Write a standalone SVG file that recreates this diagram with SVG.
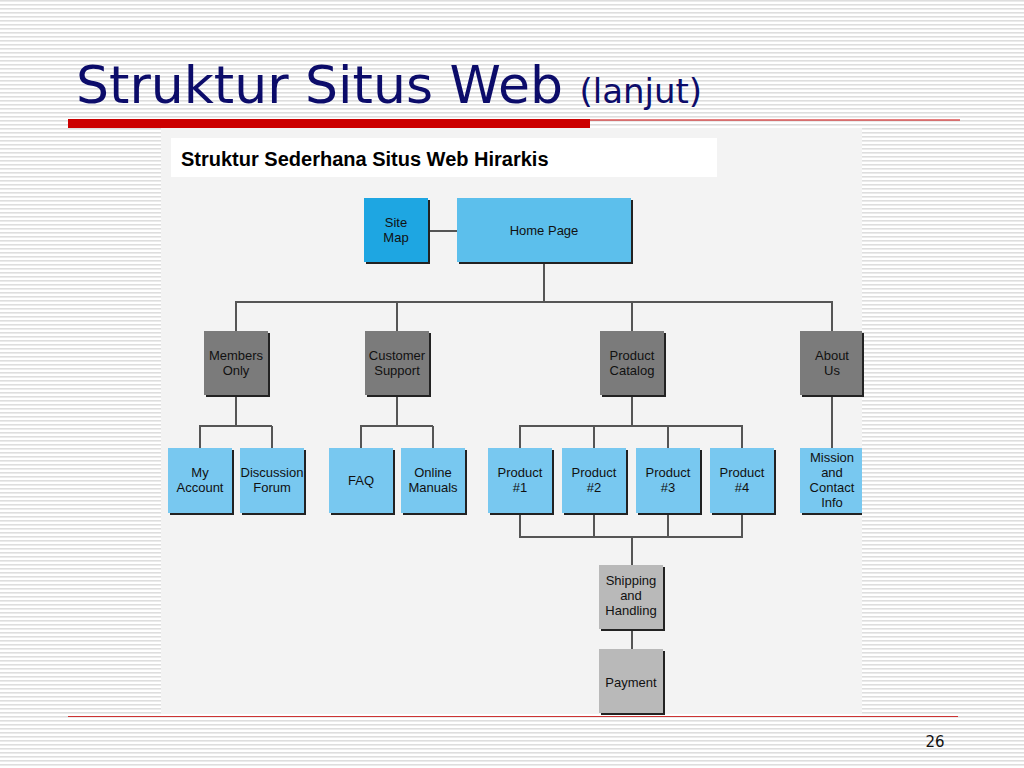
<svg xmlns="http://www.w3.org/2000/svg" width="1024" height="768" viewBox="0 0 1024 768">
<defs>
<pattern id="st" width="8" height="4" patternUnits="userSpaceOnUse"><rect width="8" height="4" fill="#ffffff"/><rect width="8" height="1.6" fill="#dedede"/></pattern>
</defs>
<style>
.b{stroke:#2a2a2a;stroke-width:0;}
.sh{fill:#222}
.lb{fill:#78c8f0}.dk{fill:#1ea6e2}.hp{fill:#5cbfec}.g{fill:#7b7b7b}.lg{fill:#b9b9b9}
text.n{font-family:"Liberation Sans",Arial,sans-serif;font-size:13px;fill:#111;text-anchor:middle}
.c line{stroke:#555;stroke-width:2}
</style>
<rect width="1024" height="768" fill="url(#st)"/>
<text x="76" y="103" font-family="DejaVu Sans,Verdana,sans-serif" font-size="52" fill="#0c0c6a">Struktur Situs Web <tspan font-size="34">(lanjut)</tspan></text>
<rect x="68" y="119" width="522" height="9" fill="#cc0000"/>
<line x1="590" y1="120" x2="960" y2="120" stroke="#cc0000" stroke-width="1"/>
<rect x="161" y="128" width="701" height="586" fill="#f3f3f3"/>
<line x1="68" y1="716.5" x2="958" y2="716.5" stroke="#cc3333" stroke-width="1"/>
<text x="935" y="747" font-family="DejaVu Sans,sans-serif" font-size="15" fill="#111" text-anchor="middle">26</text>
<rect x="171" y="138" width="546" height="39" fill="#ffffff"/>
<text x="181" y="166" font-family="Liberation Sans,Arial,sans-serif" font-size="20" font-weight="bold" fill="#000">Struktur Sederhana Situs Web Hirarkis</text>
<g class="c">
<line x1="428" y1="231" x2="457" y2="231"/>
<line x1="544" y1="262" x2="544" y2="302"/>
<line x1="235" y1="302" x2="833" y2="302"/>
<line x1="236" y1="302" x2="236" y2="331"/><line x1="397" y1="302" x2="397" y2="331"/><line x1="632" y1="302" x2="632" y2="331"/><line x1="832" y1="302" x2="832" y2="331"/>
<line x1="236" y1="395" x2="236" y2="426"/><line x1="199" y1="426" x2="272" y2="426"/><line x1="200" y1="426" x2="200" y2="448"/><line x1="272" y1="426" x2="272" y2="448"/>
<line x1="397" y1="395" x2="397" y2="426"/><line x1="360" y1="426" x2="433" y2="426"/><line x1="361" y1="426" x2="361" y2="448"/><line x1="433" y1="426" x2="433" y2="448"/>
<line x1="632" y1="395" x2="632" y2="426"/><line x1="519" y1="426" x2="743" y2="426"/><line x1="520" y1="426" x2="520" y2="448"/><line x1="594" y1="426" x2="594" y2="448"/><line x1="668" y1="426" x2="668" y2="448"/><line x1="742" y1="426" x2="742" y2="448"/>
<line x1="832" y1="395" x2="832" y2="448"/>
<line x1="520" y1="513" x2="520" y2="537"/><line x1="594" y1="513" x2="594" y2="537"/><line x1="668" y1="513" x2="668" y2="537"/><line x1="742" y1="513" x2="742" y2="537"/>
<line x1="519" y1="537" x2="743" y2="537"/>
<line x1="632" y1="537" x2="632" y2="565"/><line x1="632" y1="629" x2="632" y2="649"/>
</g>
<g id="sitemap"><rect x="366" y="200" width="64" height="64" class="sh"/><rect x="364" y="198" width="64" height="64" class="dk"/><text class="n" x="396" y="227">Site</text><text class="n" x="396" y="242">Map</text></g>
<g id="home"><rect x="459" y="200" width="174" height="64" class="sh"/><rect x="457" y="198" width="174" height="64" class="hp"/><text class="n" x="544" y="235">Home Page</text></g>
<g id="members"><rect x="206" y="333" width="64" height="64" class="sh"/><rect x="204" y="331" width="64" height="64" class="g"/><text class="n" x="236" y="360">Members</text><text class="n" x="236" y="375">Only</text></g>
<g id="support"><rect x="367" y="333" width="64" height="64" class="sh"/><rect x="365" y="331" width="64" height="64" class="g"/><text class="n" x="397" y="360">Customer</text><text class="n" x="397" y="375">Support</text></g>
<g id="catalog"><rect x="602" y="333" width="64" height="64" class="sh"/><rect x="600" y="331" width="64" height="64" class="g"/><text class="n" x="632" y="360">Product</text><text class="n" x="632" y="375">Catalog</text></g>
<g id="about"><rect x="802" y="333" width="62" height="64" class="sh"/><rect x="800" y="331" width="62" height="64" class="g"/><text class="n" x="832" y="360">About</text><text class="n" x="832" y="375">Us</text></g>
<g id="account"><rect x="170" y="450" width="64" height="65" class="sh"/><rect x="168" y="448" width="64" height="65" class="lb"/><text class="n" x="200" y="477">My</text><text class="n" x="200" y="492">Account</text></g>
<g id="forum"><rect x="242" y="450" width="64" height="65" class="sh"/><rect x="240" y="448" width="64" height="65" class="lb"/><text class="n" x="272" y="477">Discussion</text><text class="n" x="272" y="492">Forum</text></g>
<g id="faq"><rect x="331" y="450" width="64" height="65" class="sh"/><rect x="329" y="448" width="64" height="65" class="lb"/><text class="n" x="361" y="485">FAQ</text></g>
<g id="manuals"><rect x="403" y="450" width="64" height="65" class="sh"/><rect x="401" y="448" width="64" height="65" class="lb"/><text class="n" x="433" y="477">Online</text><text class="n" x="433" y="492">Manuals</text></g>
<g id="p1"><rect x="490" y="450" width="64" height="65" class="sh"/><rect x="488" y="448" width="64" height="65" class="lb"/><text class="n" x="520" y="477">Product</text><text class="n" x="520" y="492">#1</text></g>
<g id="p2"><rect x="564" y="450" width="64" height="65" class="sh"/><rect x="562" y="448" width="64" height="65" class="lb"/><text class="n" x="594" y="477">Product</text><text class="n" x="594" y="492">#2</text></g>
<g id="p3"><rect x="638" y="450" width="64" height="65" class="sh"/><rect x="636" y="448" width="64" height="65" class="lb"/><text class="n" x="668" y="477">Product</text><text class="n" x="668" y="492">#3</text></g>
<g id="p4"><rect x="712" y="450" width="64" height="65" class="sh"/><rect x="710" y="448" width="64" height="65" class="lb"/><text class="n" x="742" y="477">Product</text><text class="n" x="742" y="492">#4</text></g>
<g id="mission"><rect x="802" y="450" width="60" height="65" class="sh"/><rect x="800" y="448" width="62" height="65" class="lb"/><text class="n" x="832" y="462">Mission</text><text class="n" x="832" y="477">and</text><text class="n" x="832" y="492">Contact</text><text class="n" x="832" y="507">Info</text></g>
<g id="shipping"><rect x="601" y="567" width="64" height="64" class="sh"/><rect x="599" y="565" width="64" height="64" class="lg"/><text class="n" x="631" y="585">Shipping</text><text class="n" x="631" y="600">and</text><text class="n" x="631" y="615">Handling</text></g>
<g id="payment"><rect x="601" y="651" width="64" height="64" class="sh"/><rect x="599" y="649" width="64" height="64" class="lg"/><text class="n" x="631" y="687">Payment</text></g>
</svg>
